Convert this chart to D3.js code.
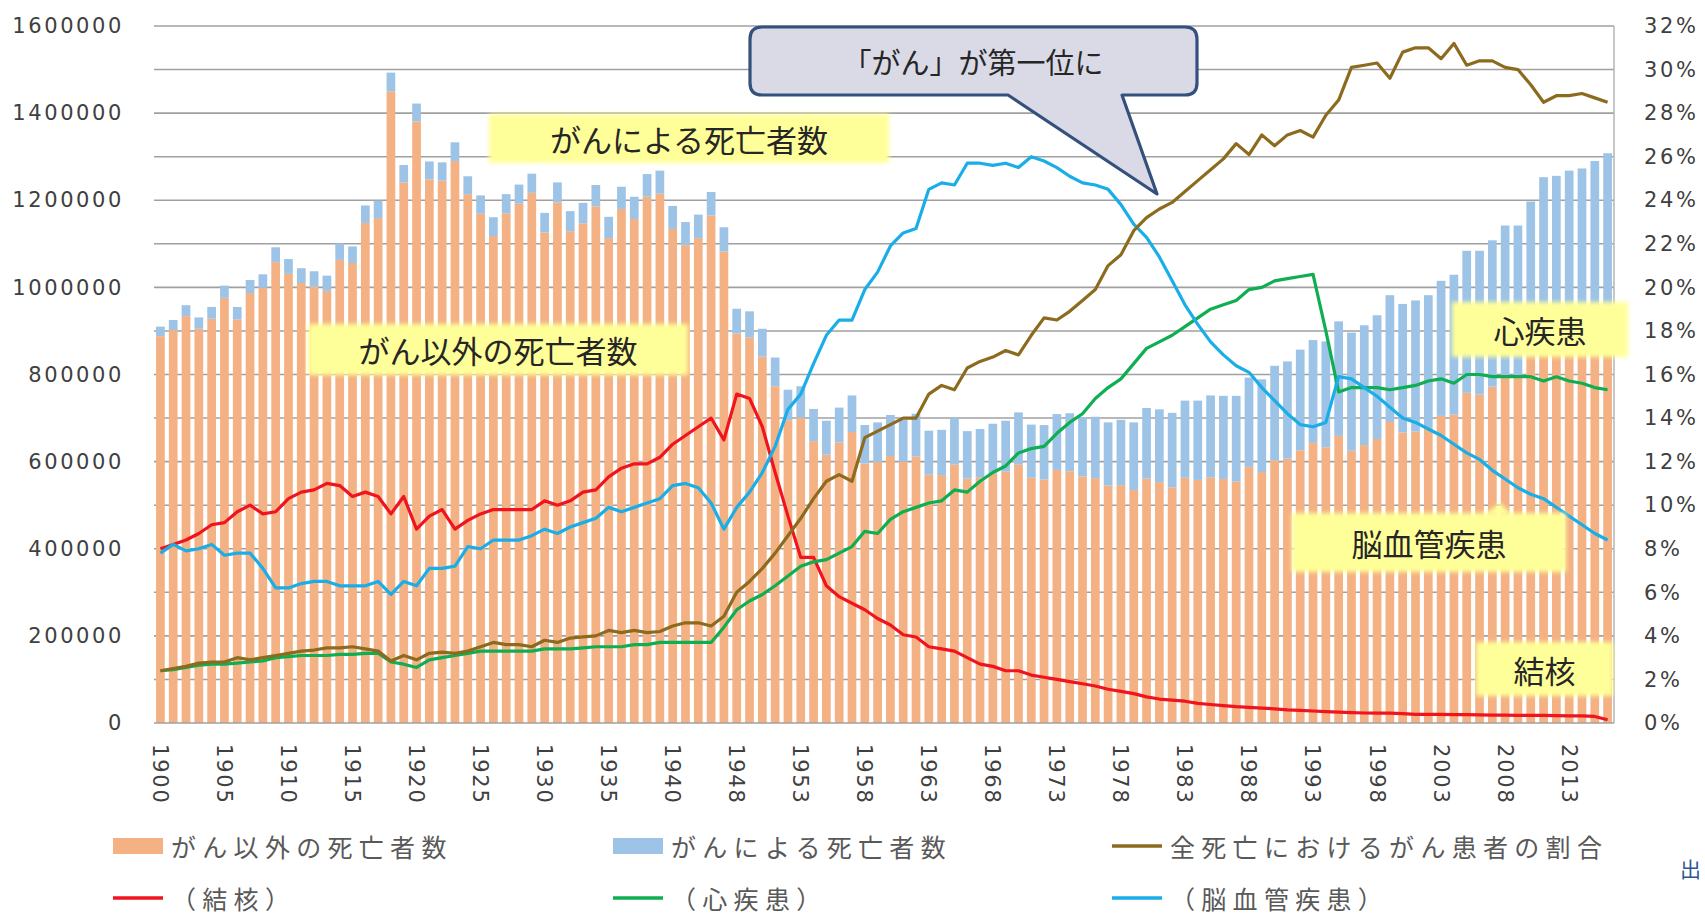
<!DOCTYPE html>
<html lang="ja">
<head>
<meta charset="utf-8">
<title>死亡者数の推移</title>
<script src="https://cdn.jsdelivr.net/npm/d3@7"></script>
<style>
  body { margin: 0; background: #fff; }
  svg text { font-family: "Noto Sans CJK JP", "Noto Sans", sans-serif; }
  .tick text { font-family: "DejaVu Sans", sans-serif; }
</style>
</head>
<body>
<div id="chart"></div>
<script>
const ORANGE = "#F4B183"
const BLUE = "#9DC3E6"
const RED = "#F0141E"
const GREEN = "#10AE52"
const CYAN = "#1AAEE8"
const BROWN = "#8C6B1F"
const GRID = "#A0A0A0"

// categories: no data for 1944-1946
var years = d3.range(1900, 1944).concat(d3.range(1947, 2017));

// deaths, thousands
var nonCancerDeaths = [
  888, 902, 934, 905, 928, 976, 926, 987, 999, 1058,
  1031, 1010, 1002, 992, 1063, 1056, 1148, 1159, 1450, 1241,
  1381, 1248, 1245, 1290, 1214, 1169, 1118, 1170, 1192, 1217,
  1126, 1195, 1129, 1147, 1186, 1113, 1180, 1157, 1208, 1215,
  1134, 1097, 1113, 1165,
  1082, 894, 885,
  841, 773, 695, 701, 647, 616, 644, 668, 596, 599,
  613, 600, 612, 570, 569, 593, 561, 564, 573, 577,
  593, 563, 559, 581, 578, 566, 562, 545, 546, 535,
  561, 553, 541, 563, 558, 564, 560, 554, 588, 576,
  603, 607, 626, 643, 633, 659, 625, 638, 652, 691,
  667, 669, 677, 705, 708, 758, 754, 772, 799, 798,
  844, 896, 895, 903, 905, 920, 935
];
var cancerDeaths = [
  22, 23, 25, 26, 27, 28, 29, 30, 31, 34,
  34, 34, 35, 35, 38, 38, 40, 40, 43, 40,
  41, 41, 42, 43, 41, 42, 43, 44, 44, 44,
  45, 46, 46, 47, 49, 49, 51, 51, 52, 53,
  53, 53, 54, 54,
  56, 57, 60,
  64, 66, 70, 72, 74, 78, 80, 84, 88, 91,
  94, 96, 98, 101, 104, 107, 109, 111, 114, 117,
  120, 122, 125, 128, 133, 136, 141, 145, 150, 155,
  162, 167, 171, 177, 182, 188, 191, 197, 205, 213,
  217, 223, 231, 236, 243, 263, 271, 275, 284, 291,
  295, 301, 305, 310, 321, 326, 330, 336, 343, 344,
  353, 357, 361, 365, 368, 370, 373
];

// share of all deaths, %
var tbShare = [
  8.0, 8.2, 8.4, 8.7, 9.1, 9.2, 9.7, 10.0, 9.6, 9.7,
  10.3, 10.6, 10.7, 11.0, 10.9, 10.4, 10.6, 10.4, 9.6, 10.4,
  8.9, 9.5, 9.8, 8.9, 9.3, 9.6, 9.8, 9.8, 9.8, 9.8,
  10.2, 10.0, 10.2, 10.6, 10.7, 11.3, 11.7, 11.9, 11.9, 12.2,
  12.8, 13.2, 13.6, 14.0,
  13.0, 15.1, 14.9,
  13.6, 11.5, 9.5, 7.6, 7.6, 6.3, 5.8, 5.5, 5.2, 4.8,
  4.5, 4.05, 3.95, 3.5, 3.4, 3.3, 3.0, 2.7, 2.6, 2.4,
  2.4, 2.2, 2.1, 2.0, 1.9, 1.8, 1.7, 1.55, 1.45, 1.35,
  1.2, 1.1, 1.05, 1.0, 0.9, 0.85, 0.8, 0.75, 0.72, 0.68,
  0.65, 0.6, 0.58, 0.55, 0.52, 0.5, 0.48, 0.46, 0.45, 0.45,
  0.43, 0.4, 0.4, 0.4, 0.38, 0.38, 0.37, 0.36, 0.36, 0.35,
  0.35, 0.35, 0.34, 0.33, 0.33, 0.3, 0.15
];
var heartShare = [
  2.4, 2.45, 2.55, 2.65, 2.7, 2.7, 2.75, 2.8, 2.85, 3.0,
  3.05, 3.1, 3.1, 3.1, 3.15, 3.15, 3.2, 3.2, 2.8, 2.7,
  2.55, 2.9, 3.0, 3.1, 3.2, 3.3, 3.3, 3.3, 3.3, 3.3,
  3.4, 3.4, 3.4, 3.45, 3.5, 3.5, 3.5, 3.6, 3.6, 3.7,
  3.7, 3.7, 3.7, 3.7,
  4.4, 5.2, 5.6,
  5.9, 6.3, 6.75, 7.2, 7.4, 7.5, 7.8, 8.1, 8.8, 8.7,
  9.35, 9.7, 9.9, 10.1, 10.2, 10.7, 10.6, 11.1, 11.5, 11.8,
  12.4, 12.6, 12.7, 13.3, 13.8, 14.2, 14.9, 15.4, 15.8, 16.5,
  17.2, 17.5, 17.8, 18.2, 18.6, 19.0, 19.2, 19.4, 19.9, 20.0,
  20.3, 20.4, 20.5, 20.6, 18.0, 15.2, 15.4, 15.4, 15.4, 15.3,
  15.4, 15.5, 15.7, 15.8, 15.6, 16.0, 16.0, 15.9, 15.9, 15.9,
  15.9, 15.7, 15.9, 15.7, 15.6, 15.4, 15.3
];
var strokeShare = [
  7.8, 8.2, 7.9, 8.0, 8.2, 7.7, 7.8, 7.8, 7.1, 6.2,
  6.2, 6.4, 6.5, 6.5, 6.3, 6.3, 6.3, 6.5, 5.9, 6.5,
  6.3, 7.1, 7.1, 7.2, 8.1, 8.0, 8.4, 8.4, 8.4, 8.6,
  8.9, 8.7, 9.0, 9.2, 9.4, 9.9, 9.7, 9.9, 10.1, 10.3,
  10.9, 11.0, 10.8, 10.1,
  8.9, 9.9, 10.6,
  11.5, 12.7, 14.4, 15.1, 16.5, 17.8, 18.5, 18.5, 19.9, 20.7,
  21.9, 22.5, 22.7, 24.5, 24.8, 24.7, 25.7, 25.7, 25.6, 25.7,
  25.5, 26.0, 25.8, 25.5, 25.1, 24.8, 24.7, 24.5, 23.8, 22.9,
  22.3, 21.4, 20.3, 19.2, 18.3, 17.5, 16.9, 16.4, 16.1, 15.4,
  14.8, 14.2, 13.7, 13.6, 13.8, 15.9, 15.8, 15.4, 15.0, 14.5,
  14.0, 13.8, 13.5, 13.2, 12.8, 12.4, 12.1, 11.6, 11.2, 10.8,
  10.5, 10.3, 9.9, 9.5, 9.1, 8.7, 8.4
];
var cancerShare = [
  2.4, 2.5, 2.6, 2.75, 2.8, 2.8, 3.0, 2.9, 3.0, 3.1,
  3.2, 3.3, 3.35, 3.45, 3.45, 3.5, 3.4, 3.3, 2.85, 3.1,
  2.9, 3.2, 3.25, 3.2, 3.3, 3.5, 3.7, 3.6, 3.6, 3.5,
  3.8, 3.7, 3.9, 3.95, 4.0, 4.25, 4.15, 4.25, 4.15, 4.2,
  4.45, 4.6, 4.6, 4.45,
  4.9, 6.0, 6.5,
  7.1, 7.8, 8.6, 9.4, 10.3, 11.1, 11.4, 11.1, 13.1, 13.4,
  13.7, 14.0, 14.0, 15.1, 15.5, 15.3, 16.3, 16.6, 16.8, 17.1,
  16.9, 17.8, 18.6, 18.5, 18.9, 19.4, 19.9, 21.0, 21.5, 22.6,
  23.2, 23.6, 23.9, 24.4, 24.9, 25.4, 25.9, 26.6, 26.1, 27.0,
  26.5, 27.0, 27.2, 26.9, 27.9, 28.6, 30.1, 30.2, 30.3, 29.6,
  30.8, 31.0, 31.0, 30.5, 31.2, 30.2, 30.4, 30.4, 30.1, 30.0,
  29.3, 28.5, 28.8, 28.8, 28.9, 28.7, 28.5
];

var leftTicks = d3.range(0, 1600001, 200000);
var rightTicks = d3.range(0, 33, 2);
var gridTicks = d3.range(100000, 1600001, 100000);

var margin = {top: 26, right: 91, bottom: 194, left: 154};
var W = 1705, H = 917;
var width = W - margin.left - margin.right;
var height = H - margin.top - margin.bottom;

var svg = d3.select("#chart").append("svg")
  .attr("width", W)
  .attr("height", H)
  .style("display", "block");

var defs = svg.append("defs");
defs.append("filter").attr("id", "soft")
  .attr("x", "-10%").attr("y", "-20%").attr("width", "120%").attr("height", "140%")
  .append("feGaussianBlur").attr("stdDeviation", 2);

var g = svg.append("g")
  .attr("transform", "translate(" + margin.left + "," + margin.top + ")");

var x = d3.scaleBand()
  .domain(years)
  .range([0, width])
  .paddingInner(0.32)
  .paddingOuter(0.16);

var y = d3.scaleLinear().domain([0, 1600000]).range([height, 0]);
var yPct = d3.scaleLinear().domain([0, 32]).range([height, 0]);

// gridlines
g.append("g")
  .selectAll("line")
  .data(gridTicks)
  .enter().append("line")
  .attr("x1", 0)
  .attr("x2", width)
  .attr("y1", function(d) { return y(d); })
  .attr("y2", function(d) { return y(d); })
  .attr("stroke", GRID)
  .attr("stroke-width", 1.6);

g.append("line")
  .attr("x1", width).attr("x2", width)
  .attr("y1", 0).attr("y2", height)
  .attr("stroke", "#B4B4B4")
  .attr("stroke-width", 1.5);

// stacked bars
var barData = years.map(function(yr, i) {
  return {year: yr, other: nonCancerDeaths[i] * 1000, cancer: cancerDeaths[i] * 1000};
});

g.selectAll(".bar-other")
  .data(barData)
  .enter().append("rect")
  .attr("class", "bar-other")
  .attr("x", function(d) { return x(d.year); })
  .attr("width", x.bandwidth())
  .attr("y", function(d) { return y(d.other); })
  .attr("height", function(d) { return height - y(d.other); })
  .attr("fill", ORANGE);

g.selectAll(".bar-cancer")
  .data(barData)
  .enter().append("rect")
  .attr("class", "bar-cancer")
  .attr("x", function(d) { return x(d.year); })
  .attr("width", x.bandwidth())
  .attr("y", function(d) { return y(d.other + d.cancer); })
  .attr("height", function(d) { return y(d.other) - y(d.other + d.cancer); })
  .attr("fill", BLUE);

g.append("line")
  .attr("x1", 0).attr("x2", width)
  .attr("y1", height).attr("y2", height)
  .attr("stroke", GRID)
  .attr("stroke-width", 1.5);

// share lines
var line = d3.line()
  .x(function(d, i) { return x(years[i]) + x.bandwidth() / 2; })
  .y(function(d) { return yPct(d); });

[[tbShare, RED], [heartShare, GREEN], [strokeShare, CYAN], [cancerShare, BROWN]].forEach(function(s) {
  g.append("path")
    .datum(s[0])
    .attr("d", line)
    .attr("fill", "none")
    .attr("stroke", s[1])
    .attr("stroke-width", 3.2)
    .attr("stroke-linejoin", "round");
});

// yellow labels (page coords)
function yellowLabel(x0, y0, x1, y1, txt) {
  svg.append("rect")
    .attr("x", x0).attr("y", y0)
    .attr("width", x1 - x0).attr("height", y1 - y0)
    .attr("fill", "#FFFF9A")
    .attr("filter", "url(#soft)");
  svg.append("text")
    .attr("x", (x0 + x1) / 2)
    .attr("y", (y0 + y1) / 2)
    .attr("text-anchor", "middle")
    .attr("dominant-baseline", "central")
    .attr("font-size", 31)
    .attr("fill", "#262626")
    .text(txt);
}

yellowLabel(489, 114, 889, 163, "がんによる死亡者数");
yellowLabel(308, 324, 688, 375, "がん以外の死亡者数");
yellowLabel(1452, 302, 1628, 357, "心疾患");
svg.append("path")
  .attr("d", "M1484,515 L1500,503 L1512,515 Z")
  .attr("fill", "#FFFF9A")
  .attr("filter", "url(#soft)");
yellowLabel(1292, 513, 1566, 572, "脳血管疾患");
yellowLabel(1476, 642, 1613, 696, "結核");

// callout
var cx0 = 750, cx1 = 1197, cy0 = 27, cy1 = 95, r = 12;
var callout = "M" + (cx0 + r) + "," + cy0 +
  " H" + (cx1 - r) + " Q" + cx1 + "," + cy0 + " " + cx1 + "," + (cy0 + r) +
  " V" + (cy1 - r) + " Q" + cx1 + "," + cy1 + " " + (cx1 - r) + "," + cy1 +
  " H1122 L1157,194 L1008," + cy1 +
  " H" + (cx0 + r) + " Q" + cx0 + "," + cy1 + " " + cx0 + "," + (cy1 - r) +
  " V" + (cy0 + r) + " Q" + cx0 + "," + cy0 + " " + (cx0 + r) + "," + cy0 + " Z";
svg.append("path")
  .attr("d", callout)
  .attr("fill", "#DADAE6")
  .attr("stroke", "#34507C")
  .attr("stroke-width", 3.2)
  .attr("stroke-linejoin", "round");
svg.append("text")
  .attr("x", 973)
  .attr("y", 61)
  .attr("text-anchor", "middle")
  .attr("dominant-baseline", "central")
  .attr("font-size", 29)
  .attr("fill", "#262626")
  .text("「がん」が第一位に");

// axes
var leftAxis = g.append("g")
  .call(d3.axisLeft(y).tickValues(leftTicks).tickSize(0).tickPadding(30).tickFormat(d3.format("d")));
var rightAxis = g.append("g")
  .attr("transform", "translate(" + width + ",0)")
  .call(d3.axisRight(yPct).tickValues(rightTicks).tickSize(0).tickPadding(30)
    .tickFormat(function(d) { return d + "%"; }));
var bottomAxis = g.append("g")
  .attr("transform", "translate(0," + height + ")")
  .call(d3.axisBottom(x).tickValues(years.filter(function(d, i) { return i % 5 == 0; })).tickSize(0));

[leftAxis, rightAxis, bottomAxis].forEach(function(a) {
  a.select(".domain").remove();
  a.selectAll("text")
    .attr("font-size", 21)
    .attr("fill", "#404040")
    .style("letter-spacing", "2.6px");
});

bottomAxis.selectAll("text")
  .attr("transform", "rotate(90)")
  .attr("x", 21)
  .attr("y", 0)
  .attr("dy", "0.36em")
  .style("text-anchor", "start")
  .style("letter-spacing", "1.8px");

// legend
var legend = svg.append("g").attr("font-size", 25).attr("fill", "#595959");
var legendItems = [
  {x: 113, y: 846, type: "rect", color: ORANGE, label: "がん以外の死亡者数"},
  {x: 613, y: 846, type: "rect", color: BLUE, label: "がんによる死亡者数"},
  {x: 1112, y: 846, type: "line", color: BROWN, label: "全死亡におけるがん患者の割合"},
  {x: 113, y: 898, type: "line", color: RED, label: "（結核）"},
  {x: 613, y: 898, type: "line", color: GREEN, label: "（心疾患）"},
  {x: 1112, y: 898, type: "line", color: CYAN, label: "（脳血管疾患）"}
];
legendItems.forEach(function(d) {
  if (d.type == "rect") {
    legend.append("rect")
      .attr("x", d.x).attr("y", d.y - 8)
      .attr("width", 50).attr("height", 16)
      .attr("fill", d.color);
  } else {
    legend.append("line")
      .attr("x1", d.x).attr("x2", d.x + 50)
      .attr("y1", d.y).attr("y2", d.y)
      .attr("stroke", d.color)
      .attr("stroke-width", 3.5);
  }
  legend.append("text")
    .attr("x", d.x + 58)
    .attr("y", d.y)
    .attr("dominant-baseline", "central")
    .style("letter-spacing", "6.3px")
    .text(d.label);
});

// source note, only its first character fits in the frame
svg.append("text")
  .attr("x", 1680)
  .attr("y", 868)
  .attr("dominant-baseline", "central")
  .attr("font-size", 21)
  .attr("fill", "#2F5597")
  .text("出");
</script>
</body>
</html>
